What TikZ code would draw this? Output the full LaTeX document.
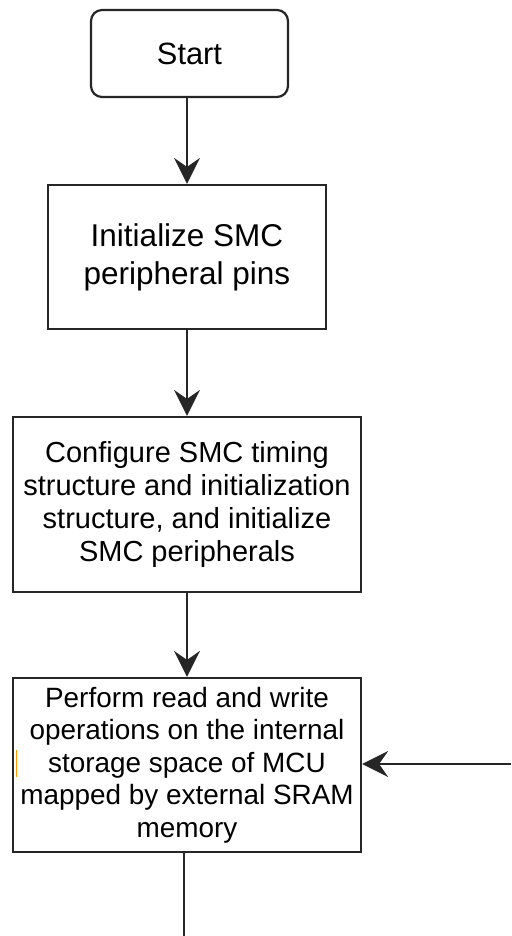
\documentclass[tikz,border=0pt]{standalone}
\usepackage{fontspec}
\setmainfont{Liberation Sans}
\usetikzlibrary{arrows.meta}
\tikzset{
  box/.style={draw=black!85, line width=2.2pt, fill=white, align=center, inner sep=0pt},
  flow/.style={draw=black!85, line width=2.2pt, -{Stealth[length=26pt,width=26pt,inset=9pt]}},
  plain/.style={draw=black!85, line width=2.2pt}
}
\begin{document}
\begin{tikzpicture}[x=1pt,y=-1pt]
  \useasboundingbox (0,0) rectangle (511,936);
  % process boxes
  \node[box, rounded corners=11pt, minimum width=197pt, minimum height=87pt,
        font=\fontsize{30.8}{36}\selectfont] (start) at (189.5,53.5) {Start};
  \node[box, minimum width=278pt, minimum height=144pt,
        font=\fontsize{31.5}{38}\selectfont] (pins) at (187,257)
        {Initialize SMC\\peripheral pins};
  \node[box, minimum width=348pt, minimum height=175pt,
        font=\fontsize{29}{33}\selectfont] (cfg) at (187,504.5)
        {Configure SMC timing\\structure and initialization\\structure, and initialize\\SMC peripherals};
  \node[box, minimum width=348pt, minimum height=174pt,
        font=\fontsize{27.9}{32.5}\selectfont] (rw) at (187,765)
        {Perform read and write\\operations on the internal\\storage space of MCU\\mapped by external SRAM\\memory};
  % loose ends of the loop connectors
  \coordinate (loopin) at (511,764);
  \coordinate (loopout) at (184,936);
  % connectors
  \draw[flow] (start.south -| 187,0) -- (pins.north);
  \draw[flow] (pins.south) -- (cfg.north);
  \draw[flow] (cfg.south) -- (rw.north);
  \draw[flow] (loopin) -- (rw.east |- loopin);
  \draw[plain] (rw.south -| loopout) -- (loopout);
  % small orange tick inside the last box
  \draw[orange!80!yellow, line width=0.8pt] (16,750) -- (16,777);
\end{tikzpicture}
\end{document}
